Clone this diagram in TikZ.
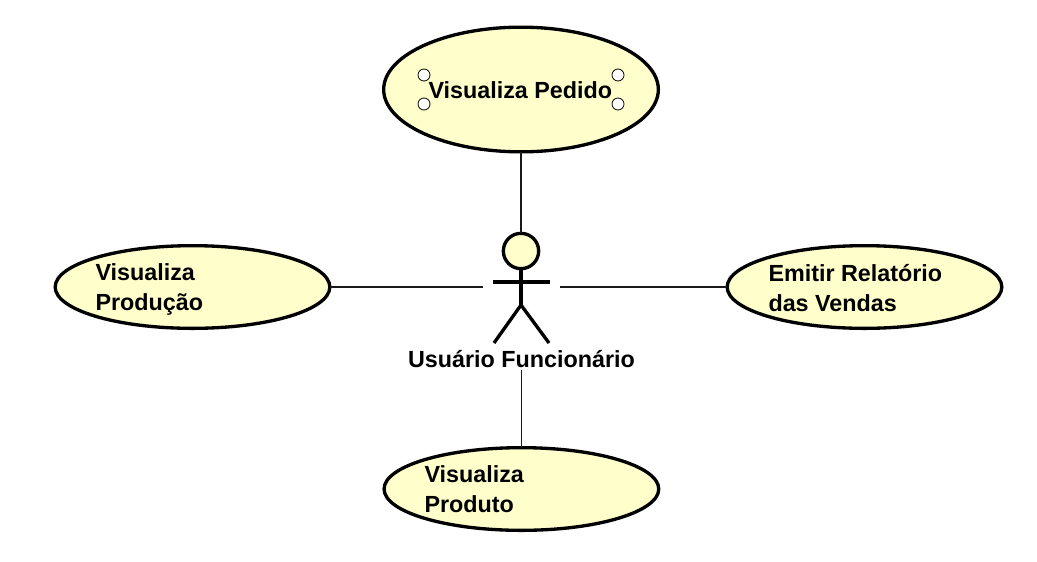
\documentclass[tikz,border=0pt]{standalone}
\usepackage{fontspec}
\setmainfont{Liberation Sans}
\usetikzlibrary{shapes.geometric}
\definecolor{ucfill}{RGB}{255,255,204}
\tikzset{
  px/.style={x=0.75pt,y=-0.75pt},
  usecase/.style={ellipse,draw=black,fill=ucfill,line width=2.5pt,minimum width=206pt,minimum height=#1,inner sep=0pt,outer sep=0pt},
  uclabel/.style={font=\bfseries\fontsize{17.5}{22.5}\selectfont,text=black,align=left,inner sep=0pt,outer sep=0pt,anchor=west},
  link/.style={line width=1.1pt,draw=black!90},
  limb/.style={line width=2.5pt,draw=black},
  grip/.style={circle,draw=black,fill=white,line width=0.6pt,minimum size=9pt,inner sep=0pt},
}
\begin{document}
\begin{tikzpicture}[px]
\useasboundingbox (0,0) rectangle (1037,561);
\node[usecase=93.5pt] (top) at (521,89.5) {};
\node[usecase=62pt] (left) at (192.5,287) {};
\node[usecase=62pt] (right) at (864.5,287) {};
\node[usecase=62pt] (bottom) at (521.4,489) {};
\node[uclabel] (toplabel) at (428.5,90) {Visualiza Pedido};
\node[uclabel] (leftlabel) at (95.5,289.5) {Visualiza\\Produção};
\node[uclabel] (rightlabel) at (768.5,288.5) {Emitir Relatório\\das Vendas};
\node[uclabel] (bottomlabel) at (424.5,489.2) {Visualiza\\Produto};
\node[grip] (g1) at (424,75) {};
\node[grip] (g2) at (618,75) {};
\node[grip] (g3) at (424,104) {};
\node[grip] (g4) at (618,104) {};
\node[circle,draw=black,fill=ucfill,line width=2.5pt,minimum size=26.5pt,inner sep=0pt,outer sep=0pt] (head) at (521,251) {};
\coordinate (armL) at (493,282);
\coordinate (armR) at (550,282);
\coordinate (hip) at (521,305);
\coordinate (footL) at (494,343);
\coordinate (footR) at (549,343);
\coordinate (actorL) at (483,287);
\coordinate (actorR) at (560,287);
\coordinate (actorB) at (521.4,370);
\draw[limb] (head.south) -- (hip);
\draw[limb] (armL) -- (armR);
\draw[limb] (footL) -- (hip) -- (footR);
\node[font=\bfseries\fontsize{17.5}{20}\selectfont,inner sep=0pt] (actorlabel) at (521.5,359.5) {Usuário Funcionário};
\draw[link] (top.south) -- (head.north);
\draw[link] (left.east) -- (actorL);
\draw[link] (right.west) -- (actorR);
\draw[link] (bottom.north) -- (actorB);
\end{tikzpicture}
\end{document}
